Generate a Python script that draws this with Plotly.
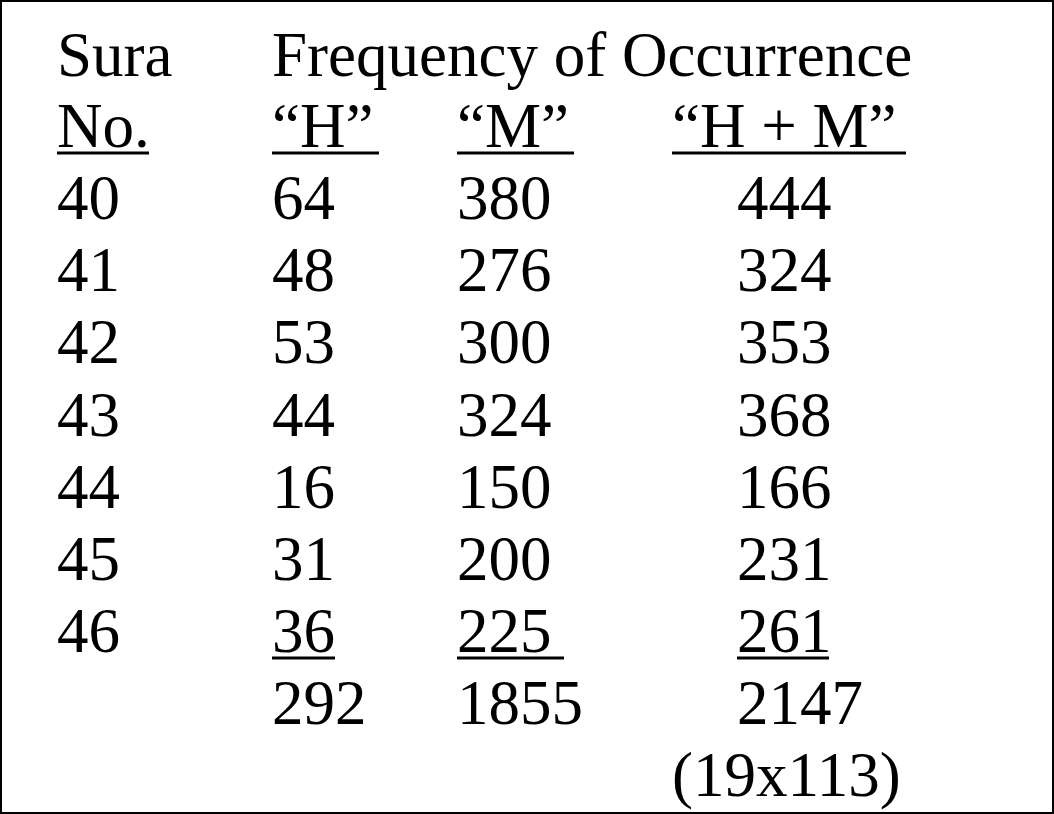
import plotly.graph_objects as go

suras = ["40", "41", "42", "43", "44", "45", "46"]
h_vals = ["64", "48", "53", "44", "16", "31", "36"]
m_vals = ["380", "276", "300", "324", "150", "200", "225"]
hm_vals = ["444", "324", "353", "368", "166", "231", "261"]
totals = ["292", "1855", "2147"]
note = "(19x113)"

W, H = 1054, 814
FS = 63
font = dict(family="Liberation Serif, Times New Roman, serif", size=FS, color="black")
fig = go.Figure()
ann = []
def t(x, y, s):
    ann.append(dict(x=x, y=y, text=s, xref="x", yref="y", showarrow=False,
                    xanchor="left", yanchor="middle", font=font))

t(55, 55, "Sura"); t(270, 55, "Frequency of Occurrence")
t(55, 126, "No."); t(270, 126, "\u201cH\u201d"); t(455, 126, "\u201cM\u201d"); t(670, 126, "\u201cH + M\u201d")
y0, dy = 198, 72.2
for i in range(len(suras)):
    y = y0 + i * dy
    t(55, y, suras[i]); t(270, y, h_vals[i]); t(455, y, m_vals[i]); t(735, y, hm_vals[i])
yt = y0 + 7 * dy
t(270, yt, totals[0]); t(455, yt, totals[1]); t(735, yt, totals[2])
t(670, yt + 72, note)

shapes = [dict(type="rect", x0=1, y0=1, x1=W - 1, y1=H - 1, line=dict(color="black", width=2))]
for x0, x1, y in [(57, 149, 153), (272, 379, 153), (457, 574, 153), (672, 906, 153),
                  (272, 335, 658), (457, 564, 658), (737, 829, 658)]:
    shapes.append(dict(type="line", x0=x0, x1=x1, y0=y, y1=y, line=dict(color="black", width=3)))

fig.update_layout(width=W, height=H, margin=dict(l=0, r=0, t=0, b=0),
                  paper_bgcolor="white", plot_bgcolor="white",
                  xaxis=dict(range=[0, W], visible=False, fixedrange=True),
                  yaxis=dict(range=[H, 0], visible=False, fixedrange=True),
                  annotations=ann, shapes=shapes, showlegend=False)
fig.write_html("out.html", config={"displayModeBar": False},
               post_script="document.body.style.margin='0';document.body.style.overflow='hidden';")
